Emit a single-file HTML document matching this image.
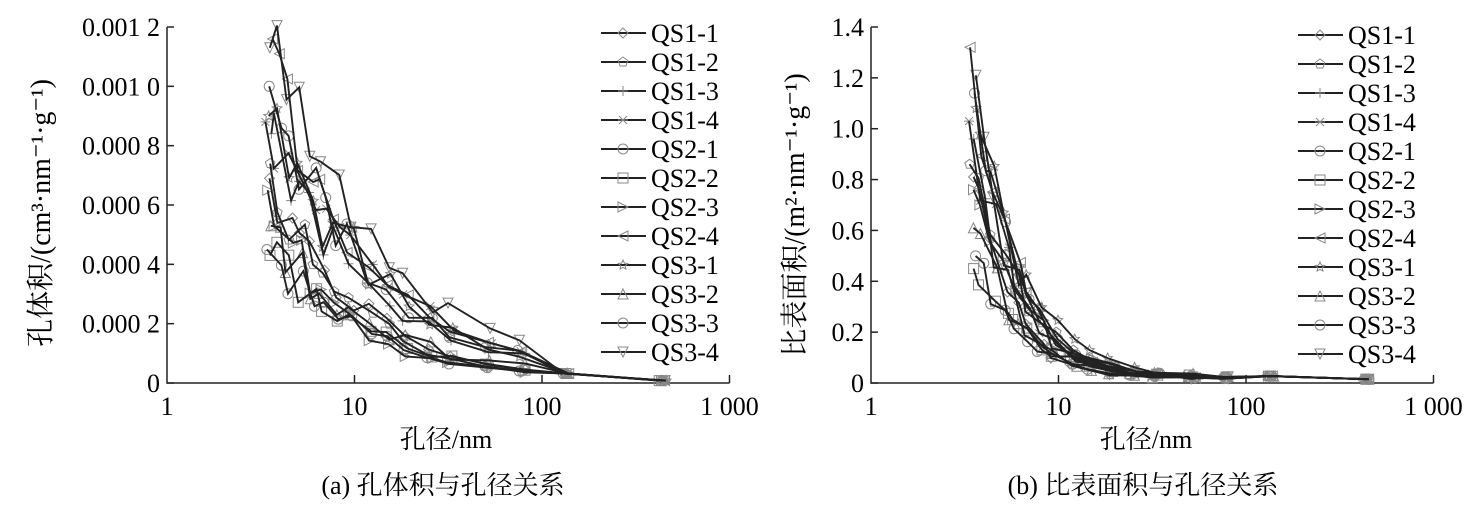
<!DOCTYPE html>
<html><head><meta charset="utf-8">
<style>
body{margin:0;background:#fff;}
svg{display:block;font-family:"Liberation Serif","Noto Serif CJK SC","Noto Sans CJK SC",serif;}
</style></head>
<body>
<svg id="s" width="1481" height="520" xmlns="http://www.w3.org/2000/svg"></svg>
<script>
const S=document.getElementById('s');
let h='';
function rnd(seed){let x=seed;return()=>{x=(x*9301+49297)%233280;return x/233280;};}
const names=['QS1-1','QS1-2','QS1-3','QS1-4','QS2-1','QS2-2','QS2-3','QS2-4','QS3-1','QS3-2','QS3-3','QS3-4'];
const mk=['dia','pent','plus','ast','circ','sq','tr','tl','star','tu','circ','td'];
function marker(t,x,y){
 const c='stroke="#888" fill="none" stroke-width="1"';
 const r=5;
 switch(t){
 case 'dia':return `<polygon points="${x},${y-r} ${x+r},${y} ${x},${y+r} ${x-r},${y}" ${c}/>`;
 case 'pent':{let p=[];for(let i=0;i<5;i++){let a=-Math.PI/2+i*2*Math.PI/5;p.push((x+r*Math.cos(a)).toFixed(1)+','+(y+r*Math.sin(a)).toFixed(1));}return `<polygon points="${p.join(' ')}" ${c}/>`;}
 case 'plus':return `<path d="M${x-r} ${y}H${x+r}M${x} ${y-r}V${y+r}" ${c}/>`;
 case 'ast':return `<path d="M${x-r} ${y}H${x+r}M${x-4} ${y-4}L${x+4} ${y+4}M${x-4} ${y+4}L${x+4} ${y-4}" ${c}/>`;
 case 'circ':return `<circle cx="${x}" cy="${y}" r="${r}" ${c}/>`;
 case 'sq':return `<rect x="${x-r}" y="${y-r}" width="${2*r}" height="${2*r}" ${c}/>`;
 case 'tr':return `<polygon points="${x-r},${y-r} ${x+r},${y} ${x-r},${y+r}" ${c}/>`;
 case 'tl':return `<polygon points="${x+r},${y-r} ${x-r},${y} ${x+r},${y+r}" ${c}/>`;
 case 'tu':return `<polygon points="${x},${y-r} ${x+r},${y+r} ${x-r},${y+r}" ${c}/>`;
 case 'td':return `<polygon points="${x-r},${y-r} ${x+r},${y-r} ${x},${y+r}" ${c}/>`;
 case 'star':{let p=[];for(let i=0;i<10;i++){let a=-Math.PI/2+i*Math.PI/5,rr=i%2?2.3:r;p.push((x+rr*Math.cos(a)).toFixed(1)+','+(y+rr*Math.sin(a)).toFixed(1));}return `<polygon points="${p.join(' ')}" ${c}/>`;}
 }
}
function chart(o){
 const X=v=>o.x0+Math.log10(v)*o.dec, Y=v=>o.y0-v*o.ys;
 h+=`<path d="M${o.x0} ${o.top}V${o.y0}H${o.x0+3*o.dec}" stroke="#222" stroke-width="1.5" fill="none"/>`;
 for(let i=1;i<=3;i++)h+=`<line x1="${o.x0+i*o.dec}" y1="${o.y0}" x2="${o.x0+i*o.dec}" y2="${o.y0-8}" stroke="#222" stroke-width="1.5"/>`;
 o.yt.forEach((t,i)=>{const y=Y(o.yv[i]);h+=`<line x1="${o.x0}" y1="${y}" x2="${o.x0+7}" y2="${y}" stroke="#222" stroke-width="1.5"/>`;
  h+=`<text x="${o.x0-7}" y="${y+9}" font-size="26" text-anchor="end">${t}</text>`;});
 ['1','10','100','1 000'].forEach((t,i)=>h+=`<text x="${o.x0+i*o.dec}" y="${o.y0+32}" font-size="26" text-anchor="middle">${t}</text>`);
 const xs=[3.5,3.9,4.5,5.2,6,6.8,8,9.5,12,15,19,25,33,52,78,135,440];
 const r=rnd(o.seed);
 const lines=[],marks=[];
 o.v0.forEach((v0,k)=>{
  const p=o.p0+r()*o.pr;
  let pts=xs.map((x,i)=>{let v=i==0?v0:v0*Math.pow(3.5/x,p)*(0.8+0.4*r())+o.fl*(1+r());
    if(i==xs.length-1)v=o.last;if(i==xs.length-2)v=o.last*o.lm;return [X(x*(0.95+0.1*r())),Y(v)];});
  lines.push(`<polyline points="${pts.map(q=>q[0].toFixed(1)+','+q[1].toFixed(1)).join(' ')}" fill="none" stroke="#222" stroke-width="1.9"/>`);
  pts.forEach(q=>marks.push(marker(mk[k],+q[0].toFixed(1),+q[1].toFixed(1))));
 });
 h+=marks.join('')+lines.join('');
 names.forEach((n,i)=>{const y=o.ly+i*29;h+=`<line x1="${o.lx}" y1="${y}" x2="${o.lx+45}" y2="${y}" stroke="#222" stroke-width="2"/>`+marker(mk[i],o.lx+22,y)+`<text x="${o.lx+50}" y="${y+9}" font-size="26">${n}</text>`;});
 h+=`<text transform="translate(${o.tx},${o.ty}) rotate(-90)" font-size="28" text-anchor="middle">${o.title}</text>`;
 h+=`<text x="${o.xc}" y="448" font-size="26" text-anchor="middle">孔径/nm</text>`;
 h+=`<text x="${o.xc-3}" y="494" font-size="26" text-anchor="middle">${o.cap}</text>`;
}
chart({x0:167,y0:383,top:27,dec:187.5,ys:356/0.0012,yt:['0','0.000 2','0.000 4','0.000 6','0.000 8','0.001 0','0.001 2'],yv:[0,0.0002,0.0004,0.0006,0.0008,0.001,0.0012],
 v0:[0.00069,0.00074,0.00084,0.00088,0.00100,0.00043,0.00065,0.00116,0.00090,0.00053,0.00045,0.00113],p0:0.7,pr:0.5,fl:0.00001,last:0.000008,lm:4,seed:7,
 lx:601,ly:33,tx:50,ty:213,title:'孔体积/(cm³·nm⁻¹·g⁻¹)',xc:446,cap:'(a) 孔体积与孔径关系'});
chart({x0:871,y0:383,top:27,dec:187.5,ys:356/1.4,yt:['0','0.2','0.4','0.6','0.8','1.0','1.2','1.4'],yv:[0,0.2,0.4,0.6,0.8,1.0,1.2,1.4],
 v0:[0.81,0.86,0.96,1.03,1.14,0.45,0.76,1.32,1.08,0.61,0.50,1.21],p0:1.5,pr:0.8,fl:0.012,last:0.015,lm:1.8,seed:13,
 lx:1298,ly:35,tx:804,ty:215,title:'比表面积/(m²·nm⁻¹·g⁻¹)',xc:1146,cap:'(b) 比表面积与孔径关系'});
S.innerHTML=h;
</script>
</body></html>
